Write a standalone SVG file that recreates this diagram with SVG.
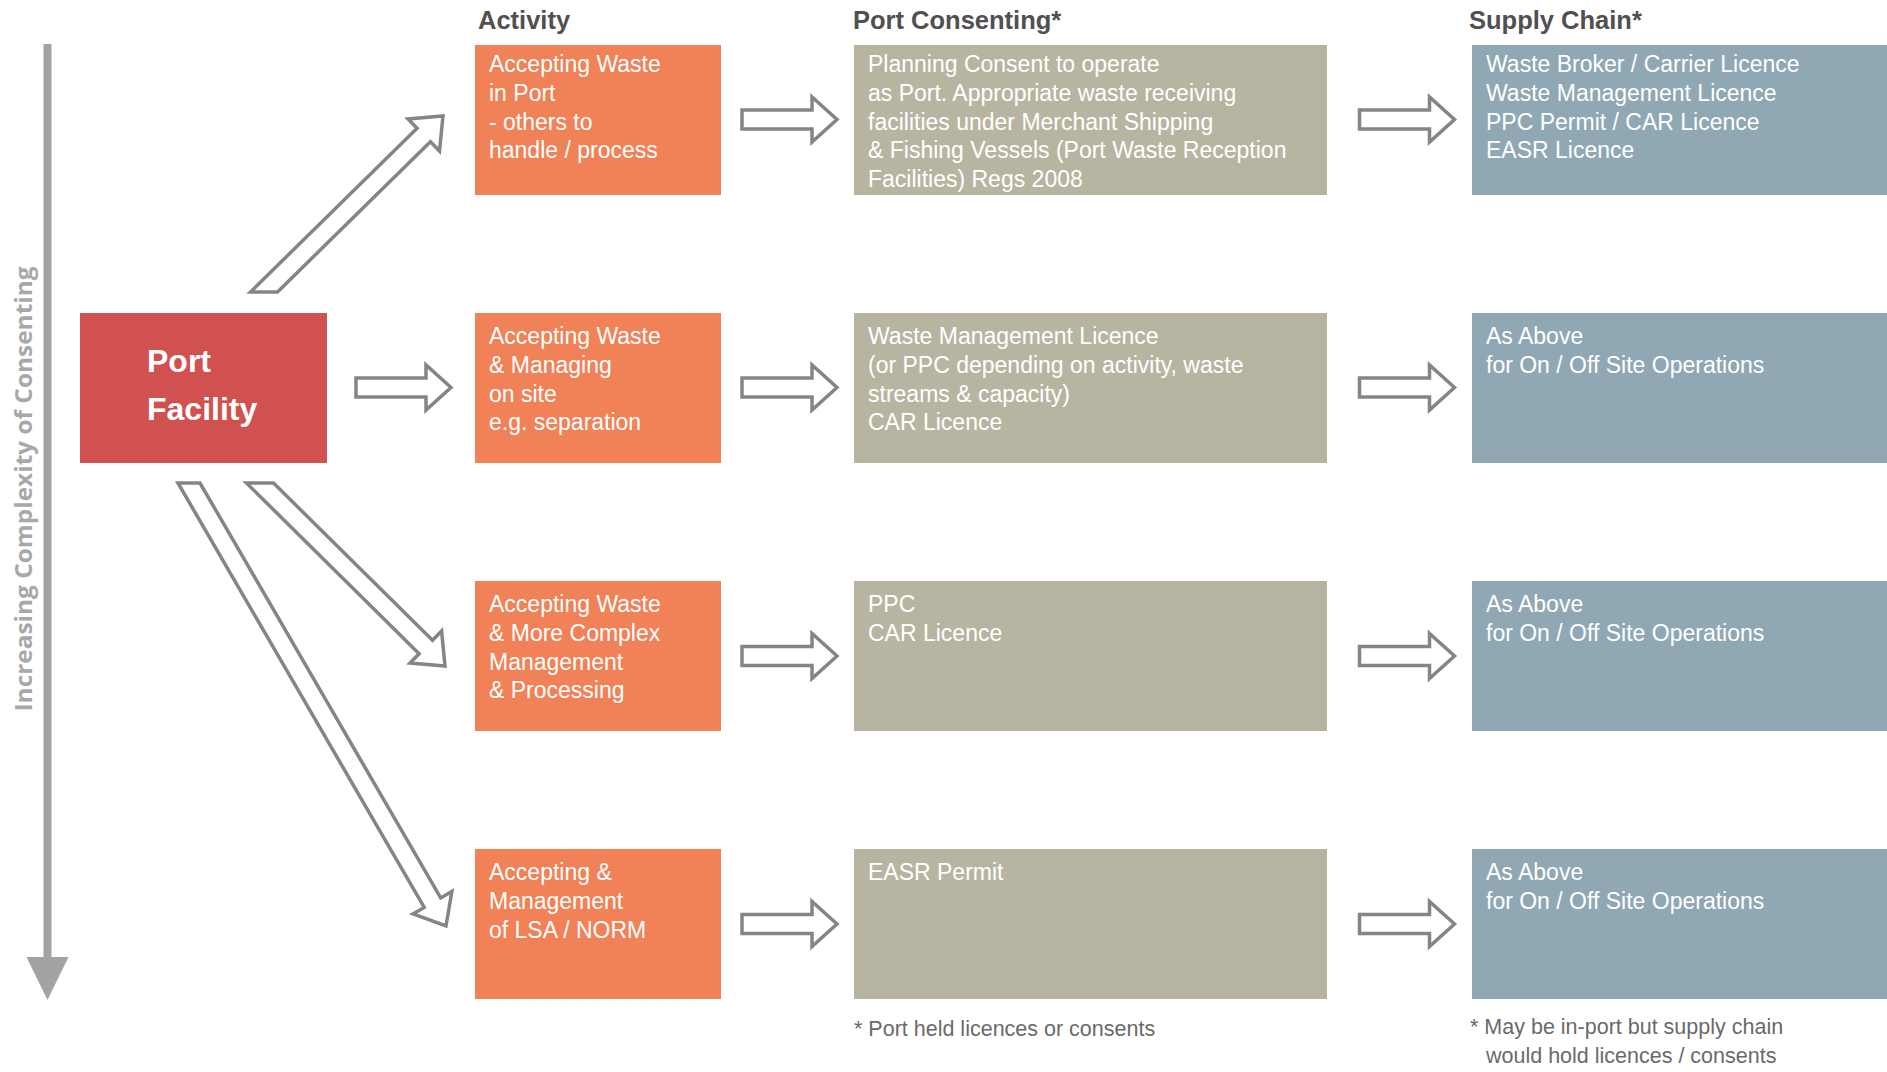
<svg xmlns="http://www.w3.org/2000/svg" xmlns:xlink="http://www.w3.org/1999/xlink" width="1887" height="1072" viewBox="0 0 1887 1072">
<style>
  .act { fill: #F18157; }
  .pf { fill: #D15151; }
  .con { fill: #B7B5A2; }
  .sup { fill: #8FA8B4; }
  .bt { font-family: "Liberation Sans", Arial, sans-serif; font-size: 23px; fill: #ffffff; }
  .hd { font-family: "Liberation Sans", Arial, sans-serif; font-size: 25.5px; font-weight: bold; fill: #505050; }
  .fn { font-family: "Liberation Sans", Arial, sans-serif; font-size: 21.5px; fill: #6a6a6a; }
  .pft { font-family: "Liberation Sans", Arial, sans-serif; font-size: 32px; font-weight: bold; fill: #ffffff; }
  .side { font-family: "Open Sans", "Liberation Sans", sans-serif; font-size: 23px; font-weight: 700; fill: #a8a8a8; }
  .arr { fill: #ffffff; stroke: #858585; stroke-width: 3.5; stroke-linejoin: miter; }
</style>
<defs>
  <polygon id="harrow" points="0,-9.5 70,-9.5 70,-22.5 95,0 70,22.5 70,9.5 0,9.5"/>
</defs>
<rect width="1887" height="1072" fill="#ffffff"/>

<!-- side axis -->
<g id="complexity-axis">
  <rect x="43.5" y="44" width="8" height="918" fill="#a3a3a3"/>
  <polygon points="26.5,957 68.5,957 47.5,1000" fill="#a3a3a3"/>
  <text class="side" transform="translate(32,489) rotate(-90)" text-anchor="middle" textLength="445" lengthAdjust="spacingAndGlyphs">Increasing Complexity of Consenting</text>
</g>

<!-- headers -->
<g id="headers">
  <text class="hd" x="478" y="29">Activity</text>
  <text class="hd" x="853" y="29">Port Consenting*</text>
  <text class="hd" x="1469" y="29">Supply Chain*</text>
</g>

<g id="port-facility">
  <rect class="pf" x="80" y="313" width="247" height="150"/>
  <text class="pft" x="147" y="372">Port</text>
  <text class="pft" x="147" y="420">Facility</text>
</g>

<g id="activity-1">
  <rect class="act" x="475" y="45" width="246" height="150"/>
  <text class="bt" x="489" y="72">Accepting Waste</text>
  <text class="bt" x="489" y="100.8">in Port</text>
  <text class="bt" x="489" y="129.6">- others to</text>
  <text class="bt" x="489" y="158.4">handle / process</text>
</g>
<g id="activity-2">
  <rect class="act" x="475" y="313" width="246" height="150"/>
  <text class="bt" x="489" y="344">Accepting Waste</text>
  <text class="bt" x="489" y="372.8">&amp; Managing</text>
  <text class="bt" x="489" y="401.6">on site</text>
  <text class="bt" x="489" y="430.4">e.g. separation</text>
</g>
<g id="activity-3">
  <rect class="act" x="475" y="581" width="246" height="150"/>
  <text class="bt" x="489" y="612">Accepting Waste</text>
  <text class="bt" x="489" y="640.8">&amp; More Complex</text>
  <text class="bt" x="489" y="669.6">Management</text>
  <text class="bt" x="489" y="698.4">&amp; Processing</text>
</g>
<g id="activity-4">
  <rect class="act" x="475" y="849" width="246" height="150"/>
  <text class="bt" x="489" y="880">Accepting &amp;</text>
  <text class="bt" x="489" y="908.8">Management</text>
  <text class="bt" x="489" y="937.6">of LSA / NORM</text>
</g>

<g id="consent-1">
  <rect class="con" x="854" y="45" width="473" height="150"/>
  <text class="bt" x="868" y="72">Planning Consent to operate</text>
  <text class="bt" x="868" y="100.8">as Port. Appropriate waste receiving</text>
  <text class="bt" x="868" y="129.6">facilities under Merchant Shipping</text>
  <text class="bt" x="868" y="158.4">&amp; Fishing Vessels (Port Waste Reception</text>
  <text class="bt" x="868" y="187.2">Facilities) Regs 2008</text>
</g>
<g id="consent-2">
  <rect class="con" x="854" y="313" width="473" height="150"/>
  <text class="bt" x="868" y="344">Waste Management Licence</text>
  <text class="bt" x="868" y="372.8">(or PPC depending on activity, waste</text>
  <text class="bt" x="868" y="401.6">streams &amp; capacity)</text>
  <text class="bt" x="868" y="430.4">CAR Licence</text>
</g>
<g id="consent-3">
  <rect class="con" x="854" y="581" width="473" height="150"/>
  <text class="bt" x="868" y="612">PPC</text>
  <text class="bt" x="868" y="640.8">CAR Licence</text>
</g>
<g id="consent-4">
  <rect class="con" x="854" y="849" width="473" height="150"/>
  <text class="bt" x="868" y="880">EASR Permit</text>
</g>

<g id="supply-1">
  <rect class="sup" x="1472" y="45" width="415" height="150"/>
  <text class="bt" x="1486" y="72">Waste Broker / Carrier Licence</text>
  <text class="bt" x="1486" y="100.8">Waste Management Licence</text>
  <text class="bt" x="1486" y="129.6">PPC Permit / CAR Licence</text>
  <text class="bt" x="1486" y="158.4">EASR Licence</text>
</g>
<g id="supply-2">
  <rect class="sup" x="1472" y="313" width="415" height="150"/>
  <text class="bt" x="1486" y="344">As Above</text>
  <text class="bt" x="1486" y="372.8">for On / Off Site Operations</text>
</g>
<g id="supply-3">
  <rect class="sup" x="1472" y="581" width="415" height="150"/>
  <text class="bt" x="1486" y="612">As Above</text>
  <text class="bt" x="1486" y="640.8">for On / Off Site Operations</text>
</g>
<g id="supply-4">
  <rect class="sup" x="1472" y="849" width="415" height="150"/>
  <text class="bt" x="1486" y="880">As Above</text>
  <text class="bt" x="1486" y="908.8">for On / Off Site Operations</text>
</g>

<g id="connectors">
  <!-- port facility to activities -->
  <polygon class="arr" points="250.5,292 417.1,128.2 408.0,118.9 443,116 439.5,151.0 430.4,141.7 277.5,292"/>
  <use class="arr" xlink:href="#harrow" href="#harrow" transform="translate(356,387.5)"/>
  <polygon class="arr" points="246.5,483 419.1,653.8 410.0,663.0 445,666 441.6,631.0 432.5,640.3 273.5,483"/>
  <polygon class="arr" points="178.0,483 424.2,907.4 413.0,913.9 446,926 451.9,891.4 440.7,897.9 200.0,483"/>
  <!-- activity to consent -->
  <use class="arr" xlink:href="#harrow" href="#harrow" transform="translate(742,119.5)"/>
  <use class="arr" xlink:href="#harrow" href="#harrow" transform="translate(742,387.5)"/>
  <use class="arr" xlink:href="#harrow" href="#harrow" transform="translate(742,656)"/>
  <use class="arr" xlink:href="#harrow" href="#harrow" transform="translate(742,924)"/>
  <!-- consent to supply -->
  <use class="arr" xlink:href="#harrow" href="#harrow" transform="translate(1359.5,119.5)"/>
  <use class="arr" xlink:href="#harrow" href="#harrow" transform="translate(1359.5,387.5)"/>
  <use class="arr" xlink:href="#harrow" href="#harrow" transform="translate(1359.5,656)"/>
  <use class="arr" xlink:href="#harrow" href="#harrow" transform="translate(1359.5,924)"/>
</g>

<g id="footnotes">
  <text class="fn" x="854" y="1036">* Port held licences or consents</text>
  <text class="fn" x="1470" y="1034">* May be in-port but supply chain</text>
  <text class="fn" x="1486" y="1063">would hold licences / consents</text>
</g>
</svg>
